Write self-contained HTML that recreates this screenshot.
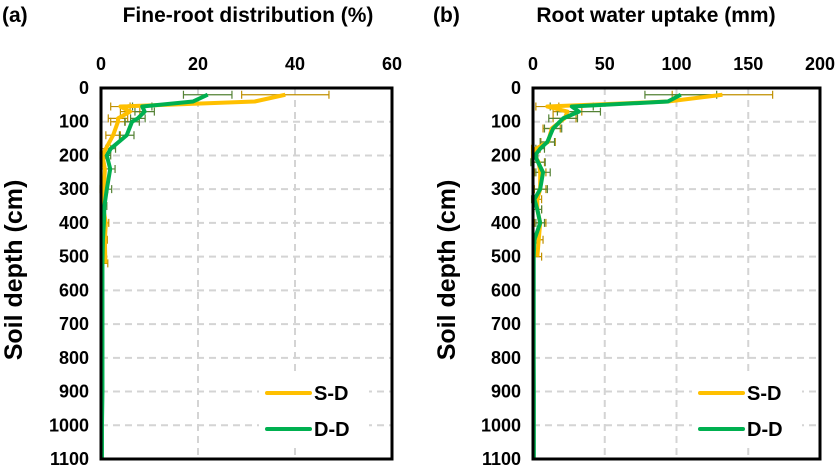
<!DOCTYPE html>
<html><head><meta charset="utf-8">
<style>
body{margin:0;background:#fff;}
svg{display:block;font-family:"Liberation Sans",Arial,sans-serif;}
</style></head>
<body>
<svg id="chart" width="836" height="466" viewBox="0 0 836 466"></svg>
<script>
// Panel (a): fine-root distribution (%)
const depthsA = [20,40,55,70,90,100,140,180,200,240,300,350,400,450,520,600,700,800,900,1000,1100];
const fineRootSD = [38,31.7,4,6,3.5,3.5,2.5,1,0.3,0.8,0.6,0.4,1,0.8,0.9,null,null,null,null,null,null];
const fineRootDD = [22,19,8.5,9,7.6,6.4,5.3,2,1.2,1.9,1.2,0.7,0.6,0.4,0.3,0.3,0.3,0.3,0.3,0.2,0.2];
const fineRootSDErr = [9,0,2,2,2,1.5,1.5,1,0.5,0.8,0.8,0.5,0.6,0.5,0.5,0,0,0,0,0,0];
const fineRootDDErr = [5,0,2,2,1.5,1.5,1.5,1,0.8,1,1,0.5,0.5,0.3,0,0,0,0,0,0,0];
// Panel (b): root water uptake (mm)
const depthsB = [20,40,55,70,90,120,160,180,200,220,250,300,330,360,400,450,500,600,700,800,900,1000,1100];
const uptakeSD = [132,94,10,24,22,13,10.5,2,1,4,5,5,3,3,5,4,3,null,null,null,null,null,null];
const uptakeDD = [103,94,27,32,21,14,10,5,1.4,3.5,7,5,1,3,5,1,0.5,0.5,0.5,0.5,0.6,0.6,0.6];
const uptakeSDErr = [35,0,8,10,8,6,5,3,2,4,4,4,3,3,4,3,3,0,0,0,0,0,0];
const uptakeDDErr = [25,0,15,15,10,6,5,3,2,5,5,5,2,3,3,1,0,0,0,0,0,0,0];
const yTicks = [0,100,200,300,400,500,600,700,800,900,1000,1100];
const xTicksA = [0,20,40,60];
const xTicksB = [0,50,100,150,200];

const NS="http://www.w3.org/2000/svg";
const svg=document.getElementById('chart');
function mk(tag,attrs,parent){const e=document.createElementNS(NS,tag);for(const k in attrs)e.setAttribute(k,attrs[k]);(parent||svg).appendChild(e);return e;}

function panel(cfg){
  const g=mk('g',{});
  
  
  const x=v=>cfg.x0+(v-cfg.xmin)/(cfg.xmax-cfg.xmin)*(cfg.x1-cfg.x0);
  const y=v=>88+v/1100*(459-88);
  yTicks.forEach(t=>{if(t>0&&t<1100){const l=mk('line',{x1:cfg.x0,x2:cfg.x1,y1:y(t),y2:y(t),stroke:'#d4d4d4','stroke-width':2,'stroke-dasharray':'7,5'},g);
    }});
  cfg.xticks.forEach(t=>{if(t>cfg.xmin&&t<cfg.xmax){const l=mk('line',{x1:x(t),x2:x(t),y1:88,y2:459,stroke:'#d4d4d4','stroke-width':2,'stroke-dasharray':'7,5'},g);
    }});
  yTicks.forEach(t=>{const tx=mk('text',{x:cfg.x0-12,y:y(t)+6,'text-anchor':'end','font-size':18,'font-weight':'bold'},g);tx.textContent=t;
    });
  cfg.xticks.forEach(t=>{const tx=mk('text',{x:x(t),y:70,'text-anchor':'middle','font-size':18,'font-weight':'bold'},g);tx.textContent=t;
    });
  const series=[[cfg.sd,cfg.sdErr,cfg.depths,'#ffc000','#c09000','s-d-line'],[cfg.dd,cfg.ddErr,cfg.depths,'#00b050','#548235','d-d-line']];
  series.forEach(([vals,errs,ds,col,ecol,nm])=>{
    vals.forEach((v,i)=>{if(v!=null&&errs[i]>0){const e=mk('path',{d:`M${x(v-errs[i])},${y(ds[i])}H${x(v+errs[i])}M${x(v-errs[i])},${y(ds[i])-4}v8M${x(v+errs[i])},${y(ds[i])-4}v8`,stroke:ecol,'stroke-width':1.2,fill:'none'},g);
      }});
  });
  series.forEach(([vals,errs,ds,col,ecol,nm])=>{
    let d='';vals.forEach((v,i)=>{if(v!=null)d+=(d?'L':'M')+x(v)+','+y(ds[i]);});
    const p=mk('path',{d,stroke:col,'stroke-width':4,fill:'none','stroke-linejoin':'round'},g);
    
  });
  const f=mk('rect',{x:cfg.x0,y:88,width:cfg.x1-cfg.x0,height:371,fill:'none',stroke:'#000','stroke-width':3},g);
  
  const lg=mk('g',{},g);
  mk('rect',{x:cfg.lx-8,y:376,width:110,height:70,fill:'#fff'},lg);
  [['S-D','#ffc000',393],['D-D','#00b050',429]].forEach(([t,c,yy])=>{
    const e=mk('g',{},lg);
    mk('line',{x1:cfg.lx,x2:cfg.lx+43,y1:yy,y2:yy,stroke:c,'stroke-width':4,'stroke-linecap':'round'},e);
    const tx=mk('text',{x:cfg.lx+47,y:yy+7,'font-size':20,'font-weight':'bold'},e);tx.textContent=t;});
  const lb=mk('text',{x:cfg.labX,y:22,'font-size':21,'font-weight':'bold'},g);lb.textContent=cfg.label;
  
  const tt=mk('text',{x:cfg.titleX,y:22,'text-anchor':'middle','font-size':21,'font-weight':'bold'},g);tt.textContent=cfg.title;
  
  const yt=mk('text',{x:0,y:0,'text-anchor':'middle','font-size':25,'font-weight':'bold',transform:`translate(${cfg.ytX},270) rotate(-90)`},g);yt.textContent='Soil depth (cm)';
  
}
panel({name:'panel-a',x0:101,x1:392,xmin:0,xmax:60,xticks:xTicksA,depths:depthsA,sd:fineRootSD,dd:fineRootDD,sdErr:fineRootSDErr,ddErr:fineRootDDErr,lx:267,label:'(a)',labX:2,title:'Fine-root distribution (%)',titleX:248,ytX:22});
panel({name:'panel-b',x0:533,x1:820,xmin:0,xmax:200,xticks:xTicksB,depths:depthsB,sd:uptakeSD,dd:uptakeDD,sdErr:uptakeSDErr,ddErr:uptakeDDErr,lx:700,label:'(b)',labX:433,title:'Root water uptake (mm)',titleX:656,ytX:455});
</script>
</body></html>
